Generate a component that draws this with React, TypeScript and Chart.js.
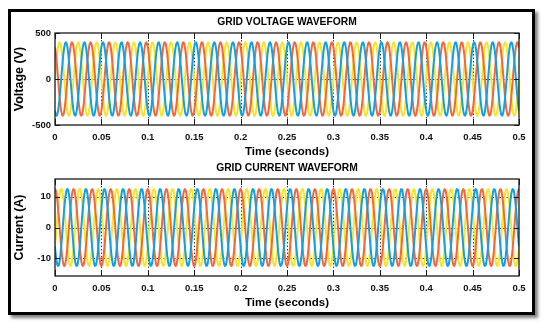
import React, { useEffect, useRef } from "react";
import { Chart, registerables } from "chart.js";

Chart.register(...registerables);

// ---- data ----
const TIME_STEP_S = 0.001; // samples every 1 ms
const CYCLE_COUNT = 25; // 50 Hz over 0.5 s
const X_TICKS = [0, 0.05, 0.1, 0.15, 0.2, 0.25, 0.3, 0.35, 0.4, 0.45, 0.5];
const V_TICKS = [-500, 0, 500];
const I_TICKS = [-10, 0, 10];

// one 20 ms cycle of each phase, sampled every 1 ms
const VA_CYCLE = [0, 124, 235, 324, 380, 400, 380, 324, 235, 124, 0, -124, -235, -324, -380, -400, -380, -324, -235, -124];
const VB_CYCLE = [-346, -391, -398, -365, -297, -200, -83, 42, 163, 268, 346, 391, 398, 365, 297, 200, 83, -42, -163, -268];
const VC_CYCLE = [346, 268, 163, 42, -83, -200, -297, -365, -398, -391, -346, -268, -163, -42, 83, 200, 297, 365, 398, 391];
const IA_CYCLE = [-6.25, -2.6, 1.31, 5.08, 8.36, 10.83, 12.23, 12.43, 11.42, 9.29, 6.25, 2.6, -1.31, -5.08, -8.36, -10.83, -12.23, -12.43, -11.42, -9.29];
const IB_CYCLE = [-6.25, -9.29, -11.42, -12.43, -12.23, -10.83, -8.36, -5.08, -1.31, 2.6, 6.25, 9.29, 11.42, 12.43, 12.23, 10.83, 8.36, 5.08, 1.31, -2.6];
const IC_CYCLE = [12.5, 11.89, 10.11, 7.35, 3.86, 0, -3.86, -7.35, -10.11, -11.89, -12.5, -11.89, -10.11, -7.35, -3.86, 0, 3.86, 7.35, 10.11, 11.89];

const BLUE = "#12a0e0";
const ORANGE = "#f4673a";
const YELLOW = "#f4e526";

function buildSeries(cycle: number[]) {
  const pts: { x: number; y: number }[] = [];
  const n = cycle.length * CYCLE_COUNT;
  for (let i = 0; i <= n; i++) {
    pts.push({ x: +(i * TIME_STEP_S).toFixed(4), y: cycle[i % cycle.length] });
  }
  return pts;
}

const FONT_FAMILY = '"Liberation Sans", Arial, Helvetica, sans-serif';

const framePlugin = {
  id: "matlabFrame",
  beforeDatasetsDraw(chart: any, _args: any, opts: any) {
    const { ctx, chartArea: a, scales } = chart;
    const x = scales.x;
    const y = scales.y;
    ctx.save();
    // dotted grid beneath the waves
    ctx.strokeStyle = "rgba(30,30,30,0.85)";
    ctx.lineWidth = 1;
    ctx.setLineDash([1.5, 2]);
    X_TICKS.forEach((v) => {
      const px = Math.round(x.getPixelForValue(v)) + 0.5;
      if (px <= a.left + 1 || px >= a.right - 1) return;
      ctx.beginPath();
      ctx.moveTo(px, a.top);
      ctx.lineTo(px, a.bottom);
      ctx.stroke();
    });
    (opts.yTicks as number[]).forEach((v) => {
      const py = Math.round(y.getPixelForValue(v)) + 0.5;
      if (py <= a.top + 1 || py >= a.bottom - 1) return;
      ctx.beginPath();
      ctx.moveTo(a.left, py);
      ctx.lineTo(a.right, py);
      ctx.stroke();
    });
    ctx.restore();
  },
  afterDatasetsDraw(chart: any, _args: any, opts: any) {
    const { ctx, chartArea: a, scales } = chart;
    const x = scales.x;
    const y = scales.y;
    ctx.save();
    // box
    ctx.strokeStyle = "#1a1a1a";
    ctx.lineWidth = 1.3;
    ctx.strokeRect(a.left, a.top, a.right - a.left, a.bottom - a.top);
    // inner ticks
    ctx.lineWidth = 1;
    X_TICKS.forEach((v) => {
      const px = Math.round(x.getPixelForValue(v)) + 0.5;
      ctx.beginPath();
      ctx.moveTo(px, a.top);
      ctx.lineTo(px, a.top + 6);
      ctx.moveTo(px, a.bottom);
      ctx.lineTo(px, a.bottom - 6);
      ctx.stroke();
    });
    (opts.yTicks as number[]).forEach((v) => {
      const py = Math.round(y.getPixelForValue(v)) + 0.5;
      ctx.beginPath();
      ctx.moveTo(a.left, py);
      ctx.lineTo(a.left + 5, py);
      ctx.moveTo(a.right, py);
      ctx.lineTo(a.right - 5, py);
      ctx.stroke();
    });
    // titles
    const cx = (a.left + a.right) / 2;
    ctx.fillStyle = "#000";
    ctx.textAlign = "center";
    ctx.textBaseline = "middle";
    ctx.font = `bold 10.3px ${FONT_FAMILY}`;
    ctx.fillText(opts.title, cx, a.top - 11);
    ctx.font = `bold 11.5px ${FONT_FAMILY}`;
    ctx.fillText(opts.xTitle, cx, opts.xTitleY);
    ctx.font = `bold 12.5px ${FONT_FAMILY}`;
    ctx.translate(opts.yTitleX, (a.top + a.bottom) / 2);
    ctx.rotate(-Math.PI / 2);
    ctx.fillText(opts.yTitle, 0, 0);
    ctx.restore();
  },
};

function makeConfig(spec: any) {
  const tickFont = { family: FONT_FAMILY, size: 9.5, weight: "bold" as const };
  return {
    type: "line" as const,
    data: {
      datasets: spec.series.map((s: any) => ({
        data: s.points,
        borderColor: s.color,
        borderWidth: 2,
        pointRadius: 0,
        fill: false,
        tension: 0.3,
      })),
    },
    options: {
      animation: false,
      responsive: false,
      maintainAspectRatio: false,
      events: [],
      layout: { padding: { left: 0, right: 31, top: spec.padTop, bottom: 0 } },
      plugins: {
        legend: { display: false },
        tooltip: { enabled: false },
        title: { display: false },
        matlabFrame: {
          title: spec.title,
          xTitle: "Time (seconds)",
          yTitle: spec.yTitle,
          xTitleY: spec.xTitleY,
          yTitleX: 20,
          yTicks: spec.yTicks,
        },
      },
      scales: {
        x: {
          type: "linear",
          min: 0,
          max: 0.5,
          afterBuildTicks: (s: any) => {
            s.ticks = X_TICKS.map((v) => ({ value: v }));
          },
          afterFit: (s: any) => {
            s.height = spec.xAxisHeight;
          },
          grid: { display: false, drawTicks: false },
          border: { display: false },
          ticks: {
            padding: 7,
            color: "#111",
            font: tickFont,
            maxRotation: 0,
            autoSkip: false,
            callback: (v: any) => String(v),
          },
        },
        y: {
          type: "linear",
          min: spec.yMin,
          max: spec.yMax,
          afterBuildTicks: (s: any) => {
            s.ticks = spec.yTicks.map((v: number) => ({ value: v }));
          },
          afterFit: (s: any) => {
            s.width = 55;
          },
          grid: { display: false, drawTicks: false },
          border: { display: false },
          ticks: {
            padding: 4,
            color: "#111",
            font: tickFont,
            autoSkip: false,
            callback: (v: any) => String(v),
          },
        },
      },
    },
    plugins: [framePlugin],
  };
}

export default function App() {
  const c1 = useRef<HTMLCanvasElement>(null);
  const c2 = useRef<HTMLCanvasElement>(null);

  useEffect(() => {
    const voltage = new Chart(
      c1.current as HTMLCanvasElement,
      makeConfig({
        title: "GRID VOLTAGE WAVEFORM",
        yTitle: "Voltage (V)",
        padTop: 33,
        xAxisHeight: 40,
        xTitleY: 152,
        yMin: -500,
        yMax: 500,
        yTicks: V_TICKS,
        series: [
          { points: buildSeries(VB_CYCLE), color: BLUE },
          { points: buildSeries(VC_CYCLE), color: ORANGE },
          { points: buildSeries(VA_CYCLE), color: YELLOW },
        ],
      }) as any
    );
    const current = new Chart(
      c2.current as HTMLCanvasElement,
      makeConfig({
        title: "GRID CURRENT WAVEFORM",
        yTitle: "Current (A)",
        padTop: 24,
        xAxisHeight: 54,
        xTitleY: 148,
        yMin: -15.7,
        yMax: 15.7,
        yTicks: I_TICKS,
        series: [
          { points: buildSeries(IB_CYCLE), color: BLUE },
          { points: buildSeries(IC_CYCLE), color: ORANGE },
          { points: buildSeries(IA_CYCLE), color: YELLOW },
        ],
      }) as any
    );
    return () => {
      voltage.destroy();
      current.destroy();
    };
  }, []);

  return (
    <div
      style={{
        position: "relative",
        width: 550,
        height: 330,
        margin: "-8px",
        background: "#fff",
        overflow: "hidden",
      }}
    >
      <div
        style={{
          position: "absolute",
          left: 8,
          top: 9,
          width: 527,
          height: 306,
          border: "3px solid #000",
          boxSizing: "border-box",
          boxShadow: "3px 3px 3px rgba(0,0,0,0.5)",
        }}
      />
      <canvas
        ref={c1}
        width={550}
        height={165}
        style={{ position: "absolute", left: 0, top: 0, width: 550, height: 165 }}
      />
      <canvas
        ref={c2}
        width={550}
        height={175}
        style={{ position: "absolute", left: 0, top: 155, width: 550, height: 175 }}
      />
    </div>
  );
}
